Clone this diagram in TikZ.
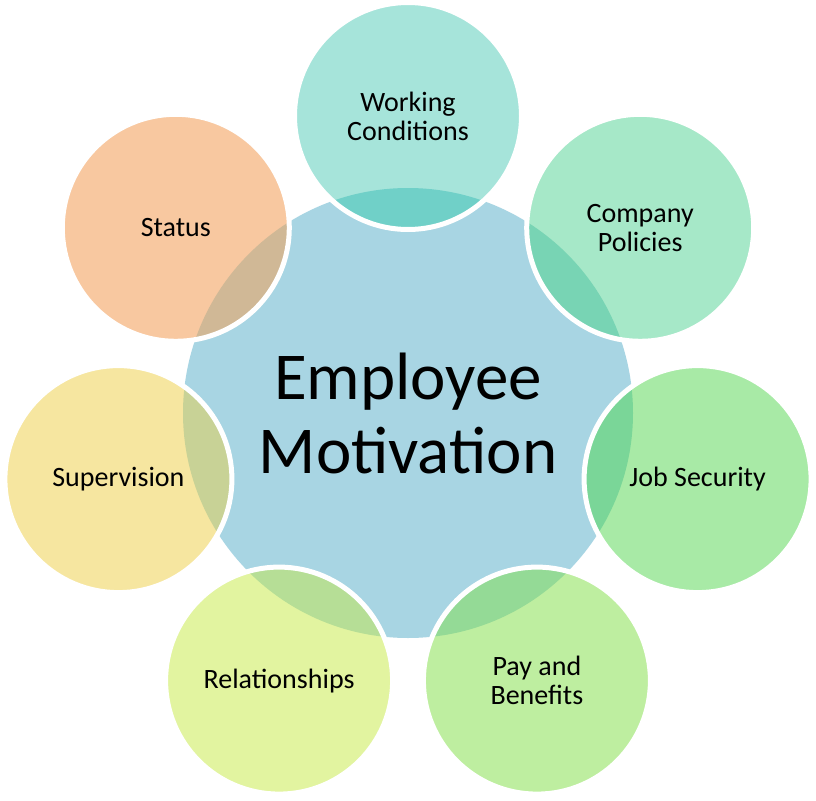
\documentclass[tikz,border=0pt]{standalone}
\usepackage{fontspec}
\setmainfont{Carlito}
\definecolor{cblue}{HTML}{A8D5E3}
\definecolor{wcF}{HTML}{A6E4DA}\definecolor{wcO}{HTML}{70D0C8}
\definecolor{cpF}{HTML}{A6E8C8}\definecolor{cpO}{HTML}{78D4B4}
\definecolor{jsF}{HTML}{A8EAA6}\definecolor{jsO}{HTML}{7AD698}
\definecolor{pbF}{HTML}{BEEEA0}\definecolor{pbO}{HTML}{94DA96}
\definecolor{rlF}{HTML}{E2F4A0}\definecolor{rlO}{HTML}{B6DE96}
\definecolor{svF}{HTML}{F6E6A0}\definecolor{svO}{HTML}{C8D296}
\definecolor{stF}{HTML}{F8C8A0}\definecolor{stO}{HTML}{D0B896}
\begin{document}
\begin{tikzpicture}[x=1pt,y=-1pt,
  hub/.style={circle, fill=cblue, minimum size=450pt, inner sep=0pt, outer sep=0pt,
    align=center, font=\fontsize{67}{74}\selectfont},
  petal/.style={circle, minimum size=227pt, inner sep=0pt, outer sep=0pt},
  petalrim/.style={draw=white, line width=5pt},
  petaltext/.style={align=center, font=\fontsize{28}{29}\selectfont, text=black}]
\useasboundingbox (0,0) rectangle (816,800);
\fill[white] (0,0) rectangle (816,800);
\node[hub] (c) at (408,413) {Employee\\Motivation};
% petals: fill, overlap with hub, white rim, label
\foreach \nm/\x/\y/\f/\o in {wc/408/116/wcF/wcO, cp/640.2/227.8/cpF/cpO, js/697.6/479.1/jsF/jsO,
  pb/536.9/680.6/pbF/pbO, rl/279.1/680.6/rlF/rlO, sv/118.4/479.1/svF/svO, st/175.8/227.8/stF/stO}{
  \node[petal, fill=\f] (\nm) at (\x,\y) {};
  \begin{scope}
    \clip (\nm.center) circle (113.5);
    \fill[\o] (c.center) circle (225);
  \end{scope}
  \draw[petalrim] (\nm.center) circle (113.5);
}
\node[petaltext] (twc) at (wc) {Working\\Conditions};
\node[petaltext] (tcp) at (cp) {Company\\Policies};
\node[petaltext] (tjs) at (js) {Job Security};
\node[petaltext] (tpb) at (pb) {Pay and\\Benefits};
\node[petaltext] (trl) at (rl) {Relationships};
\node[petaltext] (tsv) at (sv) {Supervision};
\node[petaltext] (tst) at (st) {Status};
\end{tikzpicture}
\end{document}
